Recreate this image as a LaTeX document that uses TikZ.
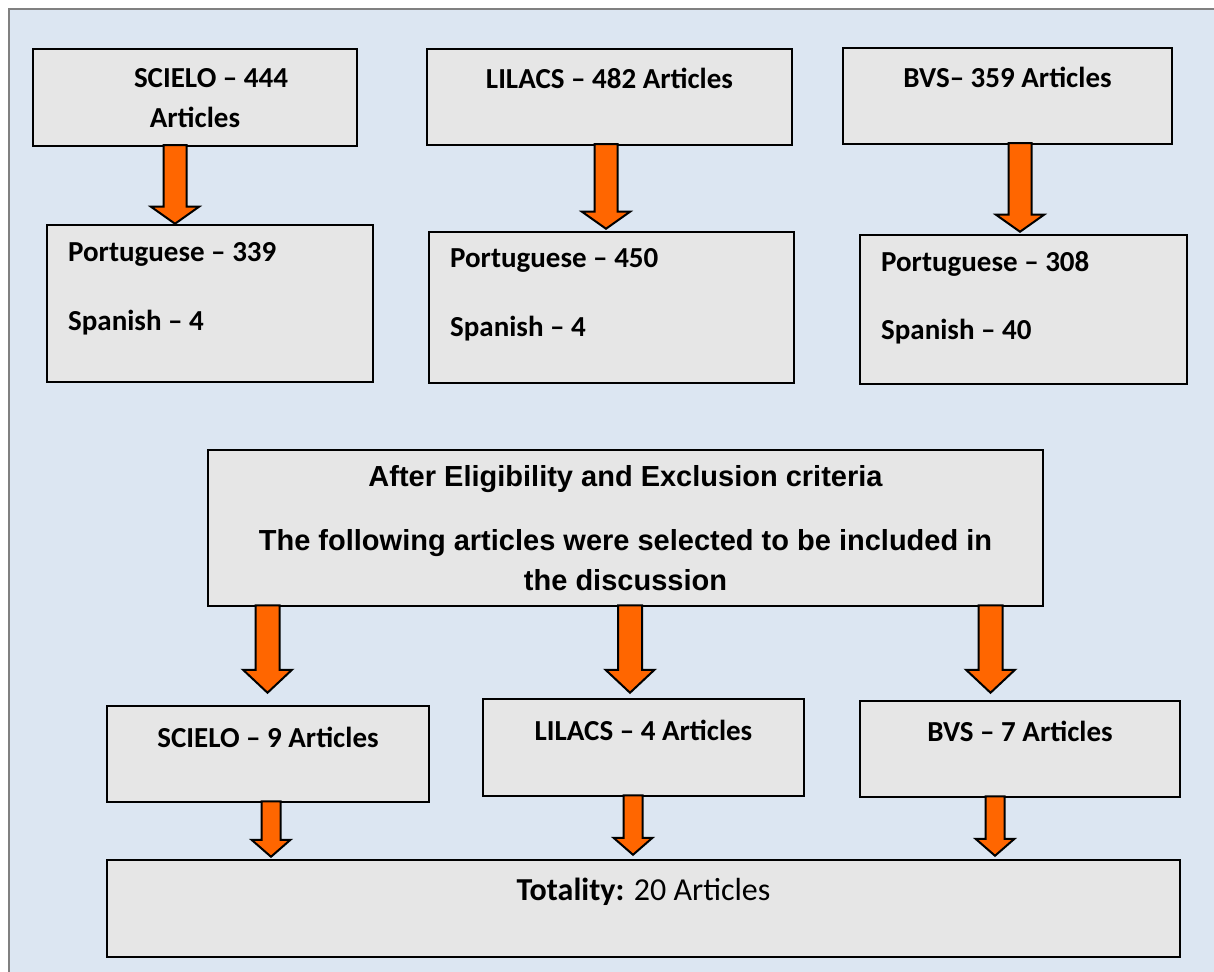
\documentclass[tikz,border=0pt]{standalone}
\usepackage{fontspec}
\setmainfont{Carlito}
\newfontfamily\arialfont{Liberation Sans}
\usetikzlibrary{calc,fit}

\definecolor{bgblue}{RGB}{220,230,242}
\definecolor{boxgray}{RGB}{230,230,230}
\definecolor{arroworange}{RGB}{255,102,0}

\tikzset{
	flowbox/.style={draw=black, line width=1.25pt, fill=boxgray, rectangle, inner sep=0pt},
	boxtext/.style={font=\bfseries\fontsize{14.5pt}{17pt}\selectfont, inner sep=0pt},
	midtext/.style={font=\arialfont\bfseries\fontsize{14.5pt}{17pt}\selectfont, inner sep=0pt, anchor=base},
	flowarrow/.style={draw=black, line width=1pt, fill=arroworange, line join=miter}
}

% block arrow: x, from, to, gap above target
\newcommand{\flowarrow}[4]{%
	\path (#1,0 |- #2.south) coordinate (atop) (#1,0 |- #3.north) coordinate (atip);
	\filldraw[flowarrow] ($(atop)+(-\arrshaft,-2)$) -- ($(atip)+(-\arrshaft,-#4-\arrlen)$)
		-- ($(atip)+(-\arrhead,-#4-\arrlen)$) -- ($(atip)+(0,-#4)$)
		-- ($(atip)+(\arrhead,-#4-\arrlen)$) -- ($(atip)+(\arrshaft,-#4-\arrlen)$)
		-- ($(atop)+(\arrshaft,-2)$) -- cycle;
}

\begin{document}
\begin{tikzpicture}[x=0.5pt, y=-0.5pt]
		\useasboundingbox (0,0) rectangle (1214,972);
		\fill[white] (0,0) rectangle (1214,972);
		\fill[bgblue] (9,9) rectangle (1214,972);
		\draw[gray, line width=0.6pt] (9,972) -- (9,9) -- (1214,9);

		% sources
		\node[flowbox, fit={(33,49) (357,146)}] (s1) {};
		\node[flowbox, fit={(427,49) (792,145)}] (l1) {};
		\node[flowbox, fit={(843,48) (1172,144)}] (b1) {};
		\node[boxtext, anchor=base] (s1a) at ($(s1.north)+(16,40)$) {SCIELO – 444};
		\node[boxtext, anchor=base] (s1b) at ($(s1.north)+(0,80)$) {Articles};
		\node[boxtext, anchor=base] (l1a) at ($(l1.north)+(0,41)$) {LILACS – 482 Articles};
		\node[boxtext, anchor=base] (b1a) at ($(b1.north)+(0,41)$) {BVS– 359 Articles};

		% languages
		\node[flowbox, fit={(47,225) (373,382)}] (s2) {};
		\node[flowbox, fit={(429,232) (794,383)}] (l2) {};
		\node[flowbox, fit={(860,235) (1187,384)}] (b2) {};
		\node[boxtext, anchor=base west] (s2a) at ($(s2.north west)+(22,38)$) {Portuguese – 339};
		\node[boxtext, anchor=base west] (s2b) at ($(s2.north west)+(22,107)$) {Spanish – 4};
		\node[boxtext, anchor=base west] (l2a) at ($(l2.north west)+(22,37)$) {Portuguese – 450};
		\node[boxtext, anchor=base west] (l2b) at ($(l2.north west)+(22,106)$) {Spanish – 4};
		\node[boxtext, anchor=base west] (b2a) at ($(b2.north west)+(22,38)$) {Portuguese – 308};
		\node[boxtext, anchor=base west] (b2b) at ($(b2.north west)+(22,106)$) {Spanish – 40};

		% criteria
		\node[flowbox, fit={(208,450) (1043,606)}] (mid) {};
		\node[midtext] (mida) at ($(mid.north)+(0,38)$) {After Eligibility and Exclusion criteria};
		\node[midtext] (midb) at ($(mid.north)+(0,102)$) {The following articles were selected to be included in};
		\node[midtext] (midc) at ($(mid.north)+(0,142)$) {the discussion};

		% selected
		\node[flowbox, fit={(107,706) (429,802)}] (s3) {};
		\node[flowbox, fit={(483,699) (804,796)}] (l3) {};
		\node[flowbox, fit={(860,701) (1180,797)}] (b3) {};
		\node[boxtext, anchor=base] (s3a) at ($(s3.north)+(0,43)$) {SCIELO – 9 Articles};
		\node[boxtext, anchor=base] (l3a) at ($(l3.north)+(0,43)$) {LILACS – 4 Articles};
		\node[boxtext, anchor=base] (b3a) at ($(b3.north)+(0,42)$) {BVS – 7 Articles};

		\node[flowbox, fit={(107,860) (1180,957)}] (total) {};
		\node[boxtext, anchor=base, font=\fontsize{16pt}{19pt}\selectfont] (totala) at ($(total.north)+(0,42)$) {\textbf{Totality:} 20 Articles};

		\def\arrshaft{11.5}\def\arrhead{24}\def\arrlen{17}
		\flowarrow{175}{s1}{s2}{0}
		\flowarrow{606}{l1}{l2}{2}
		\flowarrow{1020}{b1}{b2}{2}

		\def\arrshaft{12}\def\arrhead{24.5}\def\arrlen{23}
		\flowarrow{267.5}{mid}{s3}{12}
		\flowarrow{630}{mid}{l3}{5}
		\flowarrow{990.5}{mid}{b3}{7}

		\def\arrshaft{9.5}\def\arrhead{19.5}\def\arrlen{17}
		\flowarrow{271}{s3}{total}{2}
		\flowarrow{633}{l3}{total}{4}
		\flowarrow{995}{b3}{total}{3}
	\end{tikzpicture}
\end{document}
